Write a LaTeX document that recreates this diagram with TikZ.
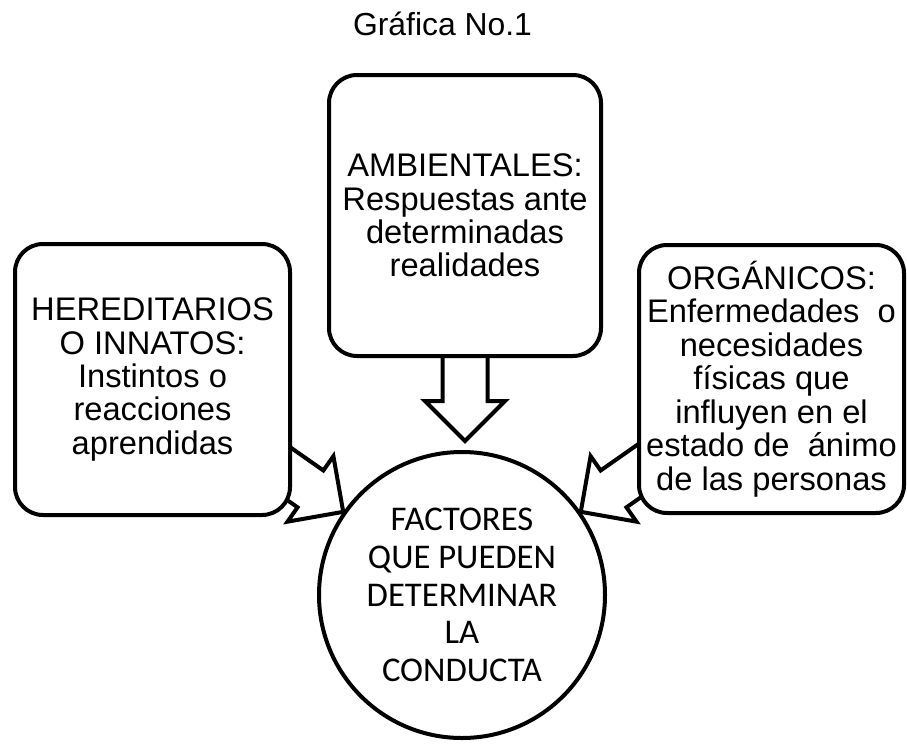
\documentclass[tikz,border=0pt]{standalone}
\usepackage{fontspec}
\setmainfont{Liberation Sans}
\newfontfamily\calibri{Carlito}
\usepackage{tikz}
\usetikzlibrary{shapes, calc}
\tikzstyle{block} = [draw, rectangle, line width=3pt, rounded corners=21pt, fill=white, align=center, inner sep=0pt, font=\fontsize{24.5}{25.1}\selectfont]
\tikzstyle{core} = [draw, circle, line width=3pt, fill=white, align=center, inner sep=0pt, minimum size=214.5pt, font=\calibri\fontsize{26}{28.3}\selectfont]
\tikzstyle{bigarrow} = [draw, line width=3pt, fill=white, line join=miter]
\newcommand{\blockarrow}[2]{\draw[bigarrow, shift={(#1)}, rotate=#2] (0,0) -- (-40,40) -- (-40,22.5) -- (-140,22.5) -- (-140,-22.5) -- (-40,-22.5) -- (-40,-40) -- cycle;}

\begin{document}
\begin{tikzpicture}[x=0.75pt, y=-0.75pt]
		\useasboundingbox (0,0) rectangle (907,743);
		\node[anchor=base, font=\fontsize{23.9}{28}\selectfont] (title) at (442.5,35) {Gráfica No.1};
		\node[core] (conducta) at (462,595) {FACTORES\\QUE PUEDEN\\DETERMINAR\\LA\\CONDUCTA};
		\coordinate (amb-c) at (465,215.5);
		\coordinate (tipD) at ($(amb-c |- conducta.north)+(0,-9)$);
		\coordinate (tipL) at (conducta.145);
		\coordinate (tipR) at (conducta.35);
		\blockarrow{tipD}{270}
		\blockarrow{tipL}{325}
		\blockarrow{tipR}{215}
		\node[block, minimum width=204pt, minimum height=210.75pt] (amb) at (amb-c) {AMBIENTALES:\\Respuestas ante\\determinadas\\realidades};
		\node[block, minimum width=206.25pt, minimum height=203.25pt] (her) at (152.5,379.5) {HEREDITARIOS\\O INNATOS:\\Instintos o\\reacciones\\aprendidas};
		\node[block, minimum width=198.75pt, minimum height=201pt] (org) at (771.5,379) {ORGÁNICOS:\\Enfermedades\ \ o\\necesidades\\físicas que\\influyen en el\\estado de\ \ ánimo\\de las personas};
	\end{tikzpicture}
\end{document}
